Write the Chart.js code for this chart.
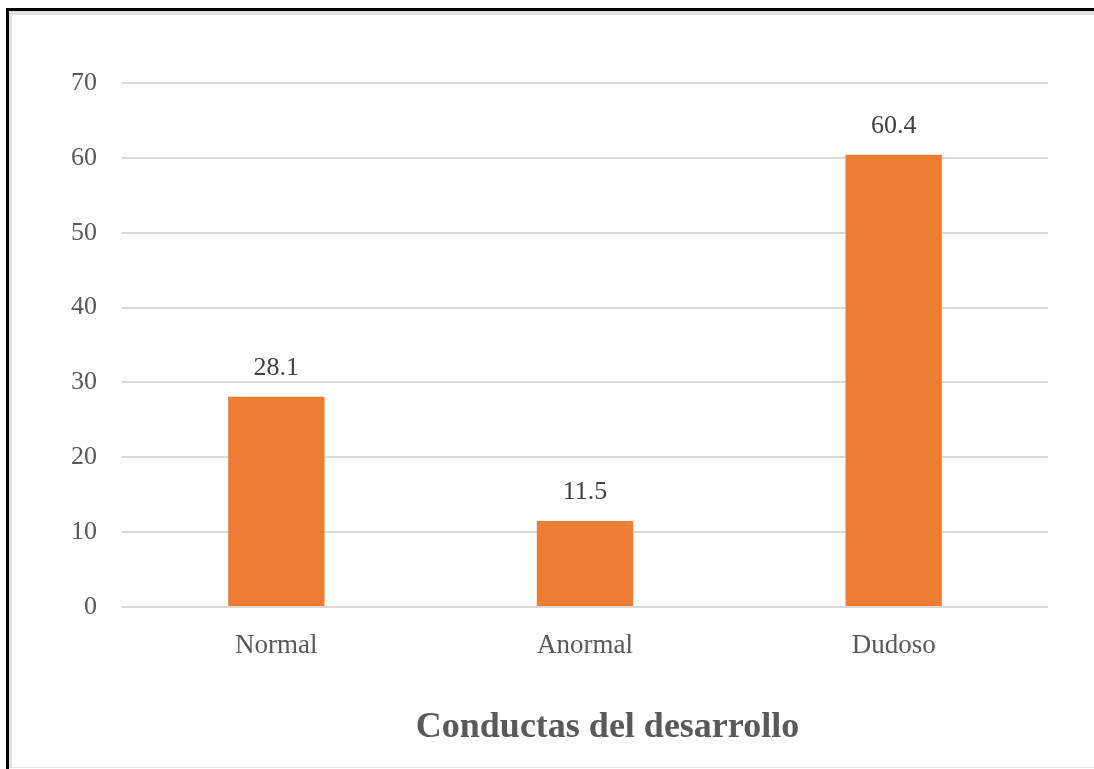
<!DOCTYPE html>
<html>
<head>
<meta charset="utf-8">
<script src="https://cdn.jsdelivr.net/npm/chart.js@4"></script>
<style>
  html, body { margin: 0; padding: 0; background: #fff; overflow: hidden; }
  #marco { position: absolute; left: 6px; top: 8px; width: 1300px; height: 900px;
           border-top: 3px solid #000; border-left: 3px solid #000; }
  #interior { position: absolute; left: 9px; top: 11px; width: 1300px; height: 752px;
              border-top: 4px solid #e2e2e2; border-left: 3px solid #e2e2e2; border-bottom: 1px solid #e2e2e2; }
  #myChart { position: absolute; left: 0; top: 0; }
</style>
</head>
<body>
<div id="marco"></div>
<div id="interior"></div>
<canvas id="myChart" width="1215" height="769"></canvas>
<script>
const categorias = ["Normal", "Anormal", "Dudoso"];
const valores = [28.1, 11.5, 60.4];
const tituloEje = "Conductas del desarrollo";
const yMax = 70;
const yPaso = 10;

const fuente = '"Liberation Serif", "Times New Roman", serif';
const gris = "#595959";

// etiquetas de valor encima de cada barra
const etiquetasValor = {
  id: "etiquetasValor",
  afterDatasetsDraw(chart) {
    const ctx = chart.ctx;
    const meta = chart.getDatasetMeta(0);
    ctx.save();
    ctx.font = "26px " + fuente;
    ctx.fillStyle = "#404040";
    ctx.textAlign = "center";
    ctx.textBaseline = "alphabetic";
    meta.data.forEach(function (barra, i) {
      ctx.fillText(valores[i].toFixed(1), barra.x, barra.y - 22);
    });
    ctx.restore();
  },
};

const ctx = document.getElementById("myChart");

new Chart(ctx, {
  type: "bar",
  data: {
    labels: categorias,
    datasets: [
      {
        data: valores,
        backgroundColor: "#ed7d31",
        borderWidth: 0,
        categoryPercentage: 1,
        barPercentage: 0.312,
      },
    ],
  },
  plugins: [etiquetasValor],
  options: {
    responsive: false,
    devicePixelRatio: 1,
    animation: false,
    layout: { padding: { top: 83, left: 0, right: 0, bottom: 0 } },
    plugins: {
      legend: { display: false },
      tooltip: { enabled: false },
      title: {
        display: true,
        position: "bottom",
        text: tituloEje,
        color: gris,
        font: { family: fuente, size: 36, weight: "bold", lineHeight: 1.2 },
        padding: { top: 2, bottom: 20 },
      },
    },
    scales: {
      x: {
        grid: { display: false, drawTicks: false },
        border: { display: false },
        ticks: {
          color: gris,
          padding: 23,
          font: { family: fuente, size: 27 },
        },
        afterFit: function (scale) {
          scale.height = 96.8;
        },
      },
      y: {
        min: 0,
        max: yMax,
        ticks: {
          stepSize: yPaso,
          color: gris,
          padding: 25,
          font: { family: fuente, size: 26 },
        },
        grid: { color: "#d9d9d9", lineWidth: 2, drawTicks: false },
        border: { display: false },
        afterFit: function (scale) {
          scale.width = 122;
        },
      },
      y2: {
        position: "right",
        display: true,
        grid: { display: false, drawTicks: false },
        border: { display: false },
        ticks: { display: false },
        afterFit: function (scale) {
          scale.width = 167;
        },
      },
    },
  },
});
</script>
</body>
</html>
